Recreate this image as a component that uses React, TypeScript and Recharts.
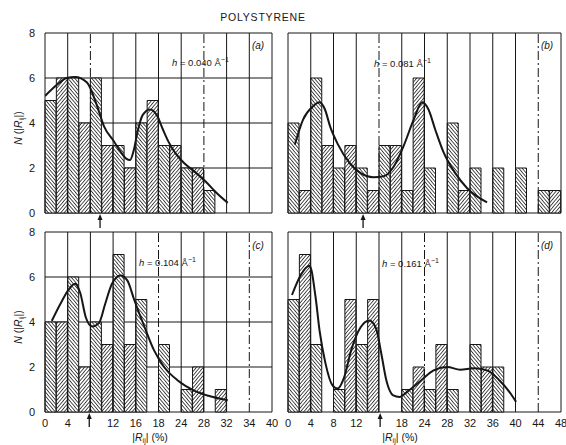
import React from 'react';
import {
  ComposedChart,
  Bar,
  Line,
  Cell,
  XAxis,
  YAxis,
  CartesianGrid,
  ReferenceLine,
  ReferenceDot,
} from 'recharts';

// counts per 2% bin of |R_ij|
const BINS_A = [5, 6, 6, 4, 6, 3, 3, 2, 4, 5, 3, 3, 2, 2, 1, 0, 0, 0, 0, 0];
const BINS_B = [4, 1, 6, 3, 2, 3, 2, 1, 3, 3, 1, 6, 2, 0, 4, 1, 2, 0, 2, 0, 2, 0, 1, 1];
const BINS_C = [4, 4, 6, 2, 4, 3, 7, 3, 5, 0, 3, 0, 1, 2, 0, 1, 0, 0, 0, 0];
const BINS_D = [5, 7, 3, 0, 1, 5, 3, 5, 0, 0, 1, 2, 1, 3, 1, 0, 3, 2, 2, 0, 0, 0, 0, 0];

// smoothed curves [x %, N]
const CURVE_A = [
  [0, 5.2], [2.1, 5.7], [3.8, 6.0], [5.3, 6.05], [7.4, 5.8], [9.2, 4.74], [10.4, 3.85],
  [12.1, 3.2], [13.4, 2.7], [14.3, 2.42], [15.0, 2.36], [15.6, 2.75], [16.3, 3.6], [17.2, 4.35],
  [18.5, 4.6], [19.7, 4.35], [20.8, 3.7], [21.8, 3.15], [23, 2.65], [24.6, 2.2],
  [26.3, 1.85], [28.3, 1.4], [30.2, 0.9], [32.2, 0.45],
];
const CURVE_B = [
  [1.2, 3.04], [2.65, 4.15], [4.4, 4.74], [5.5, 4.92], [6.5, 4.6], [7.4, 3.85], [8.8, 3.04],
  [10.9, 2.2], [12.7, 1.78], [15, 1.59], [16.8, 1.63], [18.6, 2.07], [20.3, 2.96],
  [22.1, 4.15], [23.6, 4.92], [24.7, 4.6], [25.9, 3.7], [27.4, 2.67], [29.2, 1.85],
  [31.5, 1.1], [35, 0.47],
];
const CURVE_C = [
  [1.2, 4.05], [2.7, 4.8], [4.2, 5.45], [5.3, 5.7], [6.2, 5.3], [7.2, 4.2], [8.3, 3.8],
  [9.5, 3.95], [10.6, 4.8], [11.8, 5.7], [13.3, 6.07], [14.5, 5.85], [15.7, 5.0],
  [17.5, 3.8], [19.2, 2.75], [21, 2.0], [23.4, 1.4], [26.3, 0.95], [28.8, 0.72], [32.2, 0.52],
];
const CURVE_D = [
  [0.7, 5.2], [2.2, 6.07], [3.8, 6.5], [4.85, 5.1], [5.56, 3.6], [6.6, 2.15], [7.8, 1.19],
  [8.7, 1.04], [9.9, 1.56], [11.1, 2.74], [12.8, 3.78], [14.3, 4.07], [15.5, 3.7],
  [16.4, 2.6], [17.3, 1.4], [18.5, 0.74], [19.6, 0.67], [21.2, 0.95], [23.4, 1.4],
  [25.6, 1.85], [28, 2.0], [30.3, 1.88], [32.7, 1.95], [35, 1.85], [37.2, 1.4],
  [39.2, 0.8], [40.1, 0.45],
];

const Y_TICKS = [0, 2, 4, 6, 8];
const X_TICKS_40 = [0, 4, 8, 12, 16, 20, 24, 28, 32, 36, 40];
const X_TICKS_48 = [0, 4, 8, 12, 16, 20, 24, 28, 32, 36, 40, 44, 48];
const X_LABELS_LEFT = ['0', '4', '', '12', '16', '18', '24', '28', '32', '34', '40'];
const X_LABELS_RIGHT = ['0', '4', '8', '12', '', '18', '24', '28', '32', '36', '40', '44', '48'];

const ARROW_X = { a: 9.7, b: 13.2, c: 7.8, d: 16.2 };
const DASHED_X = { a: [8, 28], b: [16, 44], c: [20, 36], d: [24, 44] };

const INK = '#161616';
const FONT = '"Liberation Sans", Arial, sans-serif';

const Arrow = (props: any) => {
  const { cx, cy } = props;
  return (
    <g>
      <path d={`M${cx},${cy + 1} L${cx - 2.5},${cy + 7} L${cx + 2.5},${cy + 7} Z`} fill={INK} />
      <line x1={cx} y1={cy + 6} x2={cx} y2={cy + 15} stroke={INK} strokeWidth={1.3} />
    </g>
  );
};

interface PanelProps {
  id: string;
  bins: number[];
  curve: number[][];
  xTicks: number[];
  xLabels?: string[];
  showY: boolean;
  arrowX: number;
  dashed: number[];
  left: number;
  top: number;
  plotW: number;
}

function Panel({ id, bins, curve, xTicks, xLabels, showY, arrowX, dashed, left, top, plotW }: PanelProps) {
  const xMax = xTicks[xTicks.length - 1];
  const data = bins.map((n, i) => ({ bin: i, x: i * 2 + 1, n }));
  const curveData = curve.map(([x, y]) => ({ x, y }));
  const yAxisW = 30;
  const bottomAxisH = xLabels ? 24 : 0;
  const marginBottom = xLabels ? 4 : 18;
  const height = 5 + 180 + bottomAxisH + marginBottom;

  return (
    <div style={{ position: 'absolute', left: left - yAxisW, top: top - 5 }}>
      <ComposedChart
        width={yAxisW + plotW + 6}
        height={height}
        data={data}
        barCategoryGap={0}
        barGap={0}
        margin={{ top: 5, right: 6, bottom: marginBottom, left: 0 }}
      >
        <defs>
          <pattern id={`${id}-0`} patternUnits="userSpaceOnUse" width="2.6" height="2.6" patternTransform="rotate(-40)">
            <rect width="2.6" height="2.6" fill="#fff" />
            <line x1="0" y1="0" x2="0" y2="2.6" stroke={INK} strokeWidth="1.5" />
          </pattern>
          <pattern id={`${id}-1`} patternUnits="userSpaceOnUse" width="2.6" height="2.6" patternTransform="rotate(40)">
            <rect width="2.6" height="2.6" fill="#fff" />
            <line x1="0" y1="0" x2="0" y2="2.6" stroke={INK} strokeWidth="1.5" />
          </pattern>
        </defs>
        <CartesianGrid vertical={false} stroke={INK} strokeWidth={1} yAxisId="y" xAxisId="num" />
        <XAxis xAxisId="cat" dataKey="bin" type="category" orientation="top" hide />
        <XAxis
          xAxisId="num"
          dataKey="x"
          type="number"
          orientation="bottom"
          domain={[0, xMax]}
          ticks={xTicks}
          interval={0}
          allowDataOverflow
          axisLine={false}
          tickLine={false}
          tickMargin={1}
          height={bottomAxisH}
          tick={xLabels ? { fill: INK, fontSize: 11, fontFamily: FONT } : false}
          tickFormatter={(v: number) => (xLabels ? xLabels[xTicks.indexOf(v)] ?? '' : '')}
        />
        <YAxis
          yAxisId="y"
          domain={[0, 8]}
          ticks={Y_TICKS}
          interval={0}
          width={yAxisW}
          axisLine={false}
          tickLine={false}
          tickMargin={4}
          tick={showY ? { fill: INK, fontSize: 11, fontFamily: FONT } : false}
        />
        <Bar xAxisId="cat" yAxisId="y" dataKey="n" stroke={INK} strokeWidth={1} isAnimationActive={false}>
          {data.map((d, i) => (
            <Cell key={`c-${i}`} fill={`url(#${id}-${i % 2})`} />
          ))}
        </Bar>
        {xTicks.map((v) => (
          <ReferenceLine
            key={`v-${v}`}
            xAxisId="num"
            yAxisId="y"
            x={v}
            stroke={INK}
            strokeWidth={1}
            strokeDasharray={dashed.includes(v) ? '9 3 2 3' : undefined}
          />
        ))}
        <Line
          xAxisId="num"
          yAxisId="y"
          data={curveData}
          dataKey="y"
          type="monotone"
          stroke={INK}
          strokeWidth={2}
          dot={false}
          isAnimationActive={false}
        />
        <ReferenceDot xAxisId="num" yAxisId="y" x={arrowX} y={0} ifOverflow="visible" shape={Arrow} />
      </ComposedChart>
    </div>
  );
}

const txt: React.CSSProperties = { fontFamily: FONT, fill: INK };

export default function App() {
  return (
    <div style={{ position: 'fixed', left: 0, top: 0, width: 566, height: 445, background: '#fff', overflow: 'hidden' }}>
      <Panel id="pa" bins={BINS_A} curve={CURVE_A} xTicks={X_TICKS_40} showY arrowX={ARROW_X.a} dashed={DASHED_X.a} left={45} top={33} plotW={227} />
      <Panel id="pb" bins={BINS_B} curve={CURVE_B} xTicks={X_TICKS_48} showY={false} arrowX={ARROW_X.b} dashed={DASHED_X.b} left={288} top={33} plotW={273} />
      <Panel id="pc" bins={BINS_C} curve={CURVE_C} xTicks={X_TICKS_40} xLabels={X_LABELS_LEFT} showY arrowX={ARROW_X.c} dashed={DASHED_X.c} left={45} top={232} plotW={227} />
      <Panel id="pd" bins={BINS_D} curve={CURVE_D} xTicks={X_TICKS_48} xLabels={X_LABELS_RIGHT} showY={false} arrowX={ARROW_X.d} dashed={DASHED_X.d} left={288} top={232} plotW={273} />
      <svg width={566} height={445} style={{ position: 'absolute', left: 0, top: 0, pointerEvents: 'none' }}>
        <text x={263} y={21} textAnchor="middle" fontSize={10.5} letterSpacing={0.8} style={txt}>POLYSTYRENE</text>

        <text transform="translate(22,128) rotate(-90)" textAnchor="middle" fontSize={10.5} style={txt}>
          <tspan fontStyle="italic">N</tspan> (|<tspan fontStyle="italic">R</tspan><tspan fontSize={7} dy={2}>ij</tspan><tspan dy={-2}>|)</tspan>
        </text>
        <text transform="translate(22,327) rotate(-90)" textAnchor="middle" fontSize={10.5} style={txt}>
          <tspan fontStyle="italic">N</tspan> (|<tspan fontStyle="italic">R</tspan><tspan fontSize={7} dy={2}>ij</tspan><tspan dy={-2}>|)</tspan>
        </text>

        <text x={150} y={441} textAnchor="middle" fontSize={10.5} style={txt}>
          |<tspan fontStyle="italic">R</tspan><tspan fontSize={7} dy={2}>ij</tspan><tspan dy={-2}>| (%)</tspan>
        </text>
        <text x={400} y={441} textAnchor="middle" fontSize={10.5} style={txt}>
          |<tspan fontStyle="italic">R</tspan><tspan fontSize={7} dy={2}>ij</tspan><tspan dy={-2}>| (%)</tspan>
        </text>

        <text x={172} y={66} fontSize={9.5} style={txt}>
          <tspan fontStyle="italic">h</tspan> = 0.040 Å<tspan fontSize={7} dy={-4}>−1</tspan>
        </text>
        <text x={374} y={67} fontSize={9.5} style={txt}>
          <tspan fontStyle="italic">h</tspan> = 0.081 Å<tspan fontSize={7} dy={-4}>−1</tspan>
        </text>
        <text x={139} y={266} fontSize={9.5} style={txt}>
          <tspan fontStyle="italic">h</tspan> = 0.104 Å<tspan fontSize={7} dy={-4}>−1</tspan>
        </text>
        <text x={382} y={267} fontSize={9.5} style={txt}>
          <tspan fontStyle="italic">h</tspan> = 0.161 Å<tspan fontSize={7} dy={-4}>−1</tspan>
        </text>

        <text x={258} y={49} textAnchor="middle" fontSize={10} fontStyle="italic" style={txt}>(a)</text>
        <text x={547} y={49} textAnchor="middle" fontSize={10} fontStyle="italic" style={txt}>(b)</text>
        <text x={258} y={249} textAnchor="middle" fontSize={10} fontStyle="italic" style={txt}>(c)</text>
        <text x={547} y={249} textAnchor="middle" fontSize={10} fontStyle="italic" style={txt}>(d)</text>
      </svg>
    </div>
  );
}
